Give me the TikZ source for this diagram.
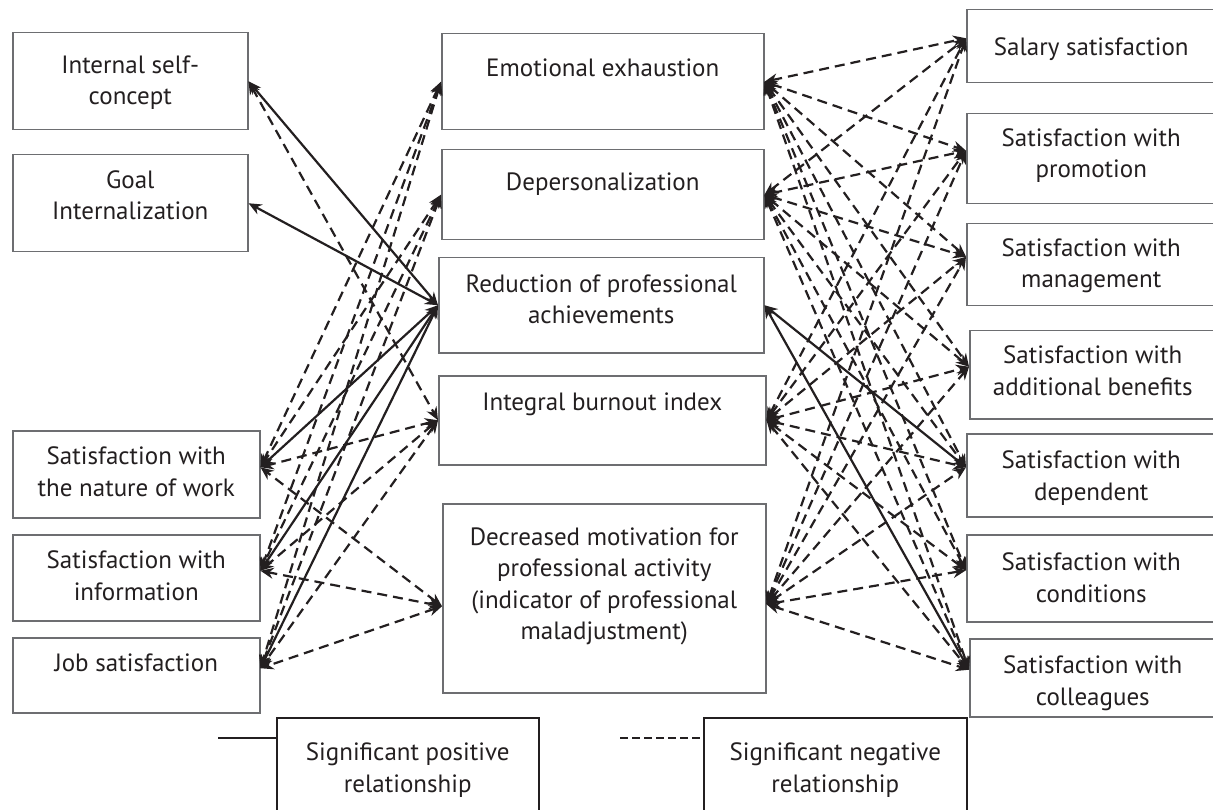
\documentclass[tikz,border=0pt]{standalone}
\usepackage{fontspec}
\setmainfont{PT Sans}
\usepackage{tikz}
\usetikzlibrary{arrows.meta}
\definecolor{ink}{HTML}{231F20}
\definecolor{frame}{HTML}{6D6E71}

\begin{document}
\begin{tikzpicture}[
			x = 1pt, y = -1pt,
			every node/.style = {font = \fontsize{25}{31.5}\selectfont, text = ink},
			bx/.style = {draw = frame, line width = 1.5pt, anchor = north west, inner sep = 0pt},
			key/.style = {bx, draw = ink},
			txt/.style = {anchor = north, align = center, inner sep = 0pt},
			link/.style = {ink, line width = 2.2pt, {Stealth[length=13pt,width=11pt]}-{Stealth[length=13pt,width=11pt]}},
			neg/.style = {link, dash pattern = on 10pt off 6pt}
			]

			\useasboundingbox (0,0) rectangle (1213,810);

			% left column
			\node[bx, minimum width = 235pt, minimum height = 97pt] (isc) at (12,32) {};
			\node[txt, yshift = -23.5pt] (isc-t) at (isc.north) {Internal self-\\concept};
			\node[bx, minimum width = 235pt, minimum height = 97pt] (gi) at (12,154) {};
			\node[txt, yshift = -16.5pt] (gi-t) at (gi.north) {Goal\\Internalization};
			\node[bx, minimum width = 247pt, minimum height = 87pt] (nw) at (12,430) {};
			\node[txt, yshift = -16.5pt] (nw-t) at (nw.north) {Satisfaction with\\the nature of work};
			\node[bx, minimum width = 247pt, minimum height = 86pt] (inf) at (12,534) {};
			\node[txt, yshift = -16.5pt] (inf-t) at (inf.north) {Satisfaction with\\information};
			\node[bx, minimum width = 247pt, minimum height = 75pt] (job) at (12,637) {};
			\node[txt, yshift = -16.5pt] (job-t) at (job.north) {Job satisfaction};

			% burnout column
			\node[bx, minimum width = 322pt, minimum height = 96pt] (ee) at (441,33) {};
			\node[txt, yshift = -25.5pt] (ee-t) at (ee.north) {Emotional exhaustion};
			\node[bx, minimum width = 322pt, minimum height = 90pt] (dep) at (441,149) {};
			\node[txt, yshift = -23.5pt] (dep-t) at (dep.north) {Depersonalization};
			\node[bx, minimum width = 325pt, minimum height = 95pt] (red) at (438,257) {};
			\node[txt, yshift = -17.5pt] (red-t) at (red.north) {Reduction of professional\\achievements};
			\node[bx, minimum width = 327pt, minimum height = 89pt] (ibi) at (438,375) {};
			\node[txt, yshift = -17.5pt] (ibi-t) at (ibi.north) {Integral burnout index};
			\node[bx, minimum width = 323pt, minimum height = 189pt] (dm) at (442,503) {};
			\node[txt, yshift = -24.5pt] (dm-t) at (dm.north) {Decreased motivation for\\professional activity\\(indicator of professional\\maladjustment)};

			% right column
			\node[bx, minimum width = 249pt, minimum height = 73pt] (sal) at (966,9) {};
			\node[txt, yshift = -28.5pt] (sal-t) at (sal.north) {Salary satisfaction};
			\node[bx, minimum width = 249pt, minimum height = 90pt] (pro) at (966,113) {};
			\node[txt, yshift = -15.5pt] (pro-t) at (pro.north) {Satisfaction with\\promotion};
			\node[bx, minimum width = 249pt, minimum height = 82pt] (man) at (966,223) {};
			\node[txt, yshift = -15.5pt] (man-t) at (man.north) {Satisfaction with\\management};
			\node[bx, minimum width = 246pt, minimum height = 88pt] (ben) at (969,330) {};
			\node[txt, yshift = -15.5pt] (ben-t) at (ben.north) {Satisfaction with\\additional benefits};
			\node[bx, minimum width = 249pt, minimum height = 83pt] (dpd) at (966,433) {};
			\node[txt, yshift = -17.5pt] (dpd-t) at (dpd.north) {Satisfaction with\\dependent};
			\node[bx, minimum width = 249pt, minimum height = 87pt] (con) at (966,534) {};
			\node[txt, yshift = -18.5pt] (con-t) at (con.north) {Satisfaction with\\conditions};
			\node[bx, minimum width = 246pt, minimum height = 78pt] (col) at (969,638) {};
			\node[txt, yshift = -17.5pt] (col-t) at (col.north) {Satisfaction with\\colleagues};

			% legend
			\node[key, minimum width = 262pt, minimum height = 100pt] (lpos) at (276,717) {};
			\node[txt, yshift = -25.5pt] (lpos-t) at (lpos.north) {Significant positive\\relationship};
			\node[key, minimum width = 263pt, minimum height = 100pt] (lneg) at (703,717) {};
			\node[txt, yshift = -25.5pt] (lneg-t) at (lneg.north) {Significant negative\\relationship};
			\coordinate (pos-tail) at (218,738);
			\coordinate (neg-tail) at (620,738);
			\draw[ink, line width = 1.5pt] (pos-tail) -- (pos-tail -| lpos.west);
			\draw[ink, line width = 1.5pt, dash pattern = on 8pt off 4pt] (neg-tail) -- (neg-tail -| lneg.west);

			% left links
			\draw[neg] (isc.east) -- (ibi.west);
			\foreach \l in {isc,gi} \draw[link] (red.west) -- (\l.east);
			\foreach \l in {nw,inf,job} {
				\foreach \m in {ee,dep,ibi} \draw[neg] (\m.west) -- ([yshift=7pt]\l.east);
				\draw[neg] ([yshift=-8pt]dm.west) -- ([yshift=7pt]\l.east);
				\draw[link] (red.west) -- ([yshift=7pt]\l.east);
			}

			% right links
			\foreach \r in {sal,pro,man,ben,dpd,con,col} {
				\foreach \m in {ee,dep,ibi} \draw[neg] (\m.east) -- ([yshift=8pt]\r.west);
				\draw[neg] ([yshift=-6pt]dm.east) -- ([yshift=8pt]\r.west);
			}
			\draw[link] (red.east) -- ([yshift=8pt]dpd.west);
			\draw[link] (red.east) -- ([yshift=8pt]col.west);

		\end{tikzpicture}
\end{document}
